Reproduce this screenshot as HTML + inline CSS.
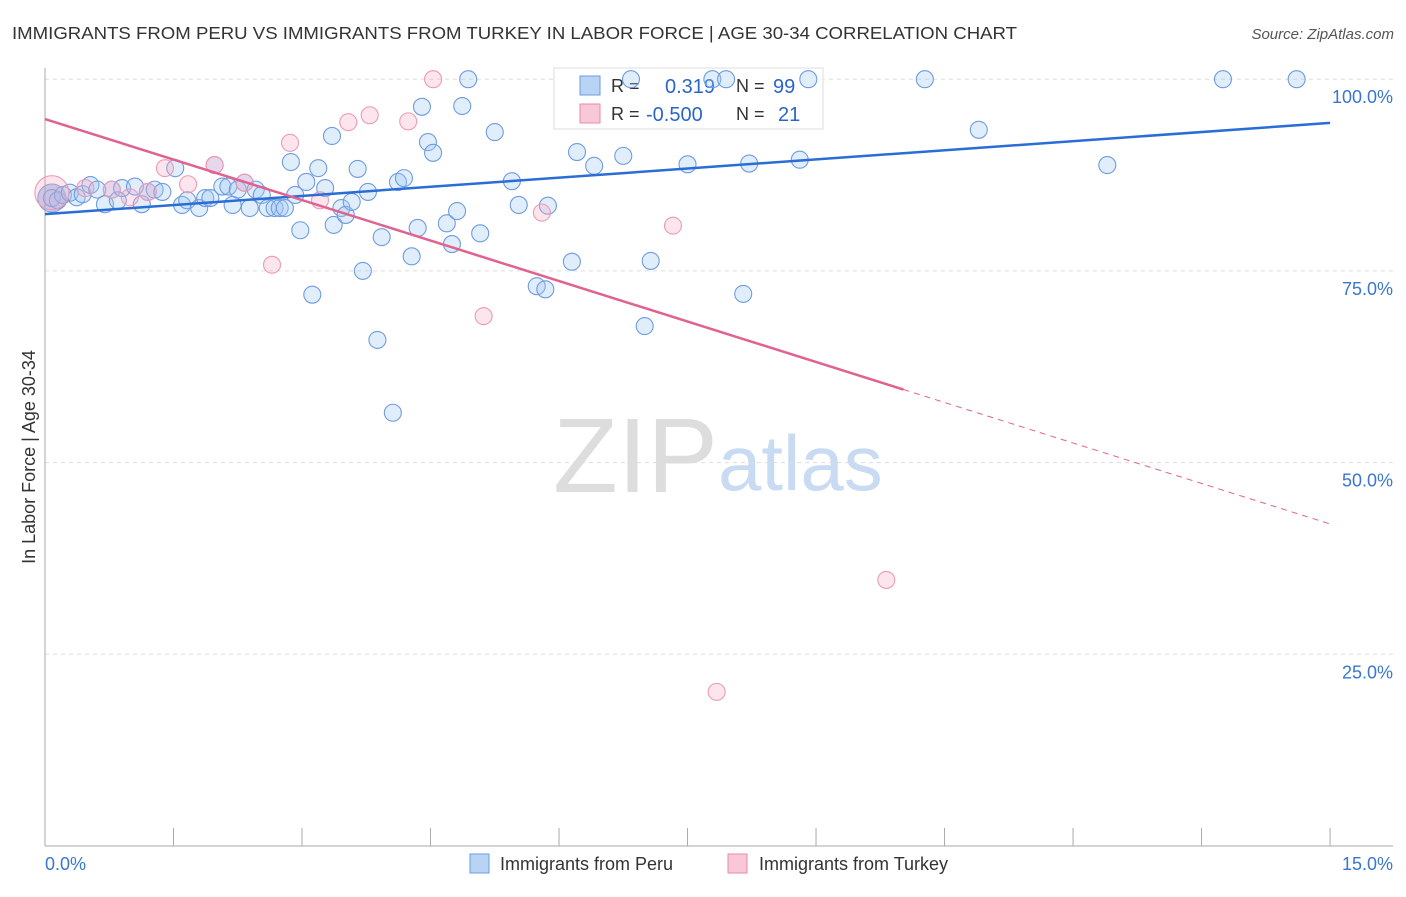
<!DOCTYPE html>
<html><head><meta charset="utf-8"><style>
body{margin:0;background:#fff;font-family:"Liberation Sans",sans-serif}
svg text{font-family:"Liberation Sans",sans-serif}
</style></head><body>
<svg id="chart" width="1406" height="892">
<text x="12" y="39" font-size="17.5" fill="#333" textLength="1005" lengthAdjust="spacingAndGlyphs">IMMIGRANTS FROM PERU VS IMMIGRANTS FROM TURKEY IN LABOR FORCE | AGE 30-34 CORRELATION CHART</text>
<text x="1394" y="39" font-size="15" fill="#555" font-style="italic" text-anchor="end">Source: ZipAtlas.com</text>
<g><text x="553" y="492" font-size="106" fill="#ddd" font-family="Liberation Serif,serif">ZIP</text><text x="718" y="490" font-size="78" fill="#c9dbf2">atlas</text></g>
<text x="35" y="457" font-size="18" fill="#333" text-anchor="middle" transform="rotate(-90 35 457)">In Labor Force | Age 30-34</text>
<g id="grid"></g><g id="axes"></g>
<g>
<rect x="554" y="68" width="269" height="61" fill="#fff" stroke="#ddd"/>
<rect x="580" y="76" width="20" height="19" fill="#b9d3f5" stroke="#6a9be0"/>
<rect x="580" y="104" width="20" height="19" fill="#f9c8d8" stroke="#e88aa9"/>
<text x="611" y="92" font-size="18" fill="#333">R =</text><text x="665" y="93" font-size="20" fill="#2a66c9">0.319</text>
<text x="736" y="92" font-size="18" fill="#333">N =</text><text x="773" y="93" font-size="20" fill="#2a66c9">99</text>
<text x="611" y="120" font-size="18" fill="#333">R =</text><text x="646" y="121" font-size="20" fill="#2a66c9">-0.500</text>
<text x="736" y="120" font-size="18" fill="#333">N =</text><text x="778" y="121" font-size="20" fill="#2a66c9">21</text>
</g>
<g id="pts"></g><g id="lines"></g>
<g>
<rect x="470" y="854" width="19" height="19" fill="#b9d3f5" stroke="#6a9be0"/><text x="500" y="870" font-size="18" fill="#333">Immigrants from Peru</text>
<rect x="728" y="854" width="19" height="19" fill="#f9c8d8" stroke="#e88aa9"/><text x="759" y="870" font-size="18" fill="#333">Immigrants from Turkey</text>
</g>
</svg>
<script>
const yTicks=[25,50,75,100];
const xTickLabels=["0.0%","15.0%"];
const peruX=[0.08,0.15,0.21,0.29,0.37,0.44,0.53,0.61,0.70,0.78,0.85,0.90,1.05,1.13,1.20,1.28,1.37,1.52,1.60,1.66,1.80,1.87,1.93,1.98,2.07,2.14,2.19,2.25,2.33,2.39,2.46,2.53,2.60,2.68,2.74,2.80,2.87,2.92,2.98,3.05,3.12,3.19,3.27,3.35,3.37,3.46,3.51,3.58,3.65,3.71,3.77,3.88,3.93,4.06,4.12,4.19,4.28,4.35,4.40,4.47,4.53,4.69,4.75,4.81,4.87,4.94,5.08,5.25,5.45,5.53,5.74,5.84,5.87,6.15,6.21,6.41,6.75,6.84,7.00,7.07,7.50,7.79,7.95,8.15,8.22,8.81,8.91,10.27,10.90,12.40,13.75,14.61];
const peruY=[84.5,84.2,84.9,85.2,84.6,85.0,86.2,85.6,83.7,85.6,84.2,85.8,86.0,83.7,85.3,85.6,85.3,88.4,83.6,84.2,83.2,84.5,84.5,88.8,86.0,86.0,83.6,85.6,86.5,83.2,85.6,84.9,83.2,83.2,83.2,83.2,89.2,84.9,80.3,86.6,71.9,88.4,85.8,92.6,81.0,83.2,82.3,84.0,88.3,75.0,85.3,66.0,79.4,56.5,86.6,87.1,76.9,80.6,96.4,91.8,90.4,81.2,78.5,82.8,96.5,100,79.9,93.1,86.7,83.6,73.0,72.6,83.5,76.2,90.5,88.7,90.0,100,67.8,76.3,88.9,100,100,72.0,89.0,89.5,100,100,93.4,88.8,100,100];
const turkeyX=[0.08,0.47,0.78,0.99,1.20,1.40,1.67,1.98,2.33,2.65,2.86,3.21,3.54,3.79,4.24,4.53,5.12,5.80,7.33,7.84,9.82];
const turkeyY=[85.2,85.8,85.6,84.6,85.3,88.4,86.3,88.8,86.5,75.8,91.7,84.2,94.4,95.3,94.5,100,69.1,82.6,80.9,20.1,34.7];
const peruTrend=[82.4,94.3];
const turkeyTrend=[94.8,42.0];
const turkeySolidEnd=10.02;
const NS="http://www.w3.org/2000/svg";
const sx=v=>45+v*85.67, sy=v=>846-v*7.668;
function mk(tag,attrs,parent){const e=document.createElementNS(NS,tag);for(const k in attrs)e.setAttribute(k,attrs[k]);parent.appendChild(e);return e;}
const grid=document.getElementById('grid'),axes=document.getElementById('axes'),pts=document.getElementById('pts'),lines=document.getElementById('lines');
yTicks.forEach(t=>{
 const l=mk('line',{x1:45,x2:1393,y1:sy(t),y2:sy(t),stroke:'#ddd','stroke-dasharray':'4,4'},grid);
 
 
 const tx=mk('text',{x:1393,y:sy(t)+24,'font-size':18,fill:'#3a76d0','text-anchor':'end'},grid);
 tx.textContent=t.toFixed(1)+'%';
 
 
});
mk('line',{x1:45,x2:45,y1:68,y2:846,stroke:'#aaa'},axes);
mk('line',{x1:45,x2:1393,y1:846,y2:846,stroke:'#aaa'},axes);
for(let i=1;i<=10;i++){const x=sx(i*1.5);mk('line',{x1:x,x2:x,y1:828,y2:846,stroke:'#aaa'},axes);}
const xl0=mk('text',{x:45,y:870,'font-size':18,fill:'#3a76d0'},axes);xl0.textContent=xTickLabels[0];


const xl1=mk('text',{x:1393,y:870,'font-size':18,fill:'#3a76d0','text-anchor':'end'},axes);xl1.textContent=xTickLabels[1];


mk('circle',{cx:sx(0.08),cy:sy(84.5),r:14,fill:'rgba(120,150,220,0.45)',stroke:'#6f9ce0'},pts);
peruX.forEach((x,i)=>{
 const c=mk('circle',{cx:sx(x),cy:sy(peruY[i]),r:8.5,fill:'rgba(160,198,242,0.32)',stroke:'#6f9ce0','stroke-width':1.1},pts);
 
 
});
turkeyX.forEach((x,i)=>{
 const c=mk('circle',{cx:sx(x),cy:sy(turkeyY[i]),r:i===0?17:8.5,fill:'rgba(245,170,195,0.3)',stroke:'#ee9ab5','stroke-width':1.1},pts);
 
 
});
const pl=mk('line',{x1:sx(0),y1:sy(peruTrend[0]),x2:sx(15),y2:sy(peruTrend[1]),stroke:'#2a6dd6','stroke-width':2.5},lines);


const tAt=x=>turkeyTrend[0]+(turkeyTrend[1]-turkeyTrend[0])*x/15;
const tl=mk('line',{x1:sx(0),y1:sy(tAt(0)),x2:sx(turkeySolidEnd),y2:sy(tAt(turkeySolidEnd)),stroke:'#e0628e','stroke-width':2.5},lines);


const td=mk('line',{x1:sx(turkeySolidEnd),y1:sy(tAt(turkeySolidEnd)),x2:sx(15),y2:sy(tAt(15)),stroke:'#e0628e','stroke-width':1,'stroke-dasharray':'6,5'},lines);


</script>
</body></html>
